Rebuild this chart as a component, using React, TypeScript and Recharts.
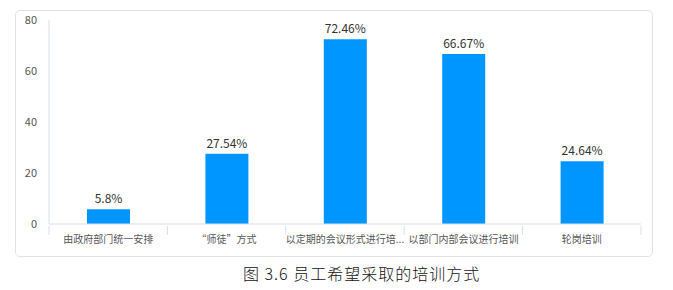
import React from "react";
import { BarChart, Bar, XAxis, YAxis, LabelList } from "recharts";

const categories = ["由政府部门统一安排", "“师徒”方式", "以定期的会议形式进行培...", "以部门内部会议进行培训", "轮岗培训"];
const percentages = [5.8, 27.54, 72.46, 66.67, 24.64];
const yTicks = [0, 20, 40, 60, 80];
const caption = "图 3.6 员工希望采取的培训方式";

const data = categories.map((name, i) => ({ name, value: percentages[i] }));

const FONT = "'Noto Sans CJK SC', 'Noto Sans', sans-serif";
const AXIS_COLOR = "#d6e0ea";

const BoundaryTick = (props: any) => {
  const { x, y, payload, index, visibleTicksCount } = props;
  const off = payload.offset || 0;
  const count = visibleTicksCount ?? categories.length;
  return (
    <g>
      <line x1={x - off} x2={x - off} y1={y - 8} y2={y + 1} stroke={AXIS_COLOR} strokeWidth={1} />
      {index === count - 1 && (
        <line x1={x + off} x2={x + off} y1={y - 8} y2={y + 1} stroke={AXIS_COLOR} strokeWidth={1} />
      )}
      <text x={x} y={y + 9} textAnchor="middle" fontSize={10} fill="#555" fontFamily={FONT}>
        {payload.value}
      </text>
    </g>
  );
};

export default function App() {
  return (
    <div style={{ position: "absolute", left: 0, top: 0, width: 673, height: 290, background: "#fff" }}>
      <div
        style={{
          position: "absolute",
          left: 15,
          top: 10,
          width: 638,
          height: 247,
          border: "1px solid #e2e2e2",
          borderRadius: 5,
          boxSizing: "border-box",
        }}
      />
      <div style={{ position: "absolute", left: 0, top: 0 }}>
        <BarChart width={673} height={260} data={data} margin={{ top: 20, right: 32, bottom: 6, left: 0 }}>
          <YAxis
            width={49}
            domain={[0, 80]}
            ticks={yTicks}
            tickLine={false}
            tickSize={0}
            tickMargin={12}
            axisLine={{ stroke: AXIS_COLOR }}
            tick={{ fontSize: 11, fill: "#555", fontFamily: FONT }}
            interval={0}
          />
          <XAxis
            dataKey="name"
            height={30}
            interval={0}
            tickLine={false}
            tickSize={8}
            axisLine={{ stroke: AXIS_COLOR }}
            tick={<BoundaryTick />}
          />
          <Bar dataKey="value" fill="#0096ff" barSize={43} isAnimationActive={false}>
            <LabelList
              dataKey="value"
              position="top"
              offset={6}
              formatter={(v: any) => `${v}%`}
              style={{ fontSize: 12, fill: "#333", fontFamily: FONT }}
            />
          </Bar>
        </BarChart>
      </div>
      <div
        style={{
          position: "absolute",
          left: 243,
          top: 263,
          fontSize: 16,
          lineHeight: "20px",
          fontFamily: FONT,
          fontWeight: 300,
          letterSpacing: 1,
          color: "#111",
          whiteSpace: "nowrap",
        }}
      >
        {caption}
      </div>
    </div>
  );
}
